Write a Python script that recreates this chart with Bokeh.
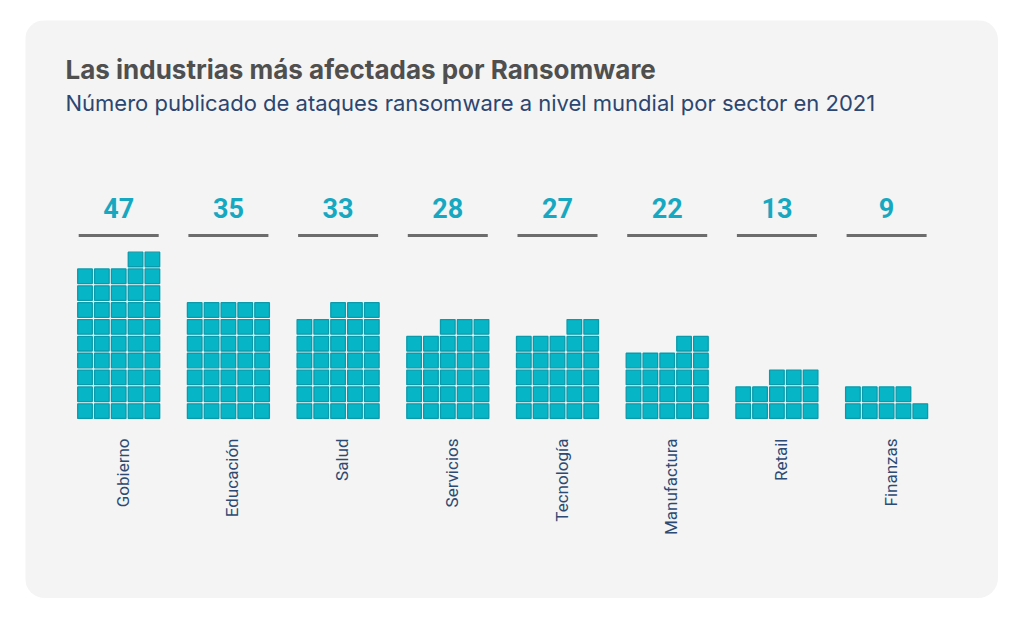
import math
from bokeh.plotting import figure
from bokeh.models import Range1d, ColumnDataSource
from bokeh.core.properties import value
from bokeh.embed import file_html
from bokeh.resources import INLINE

# ---------------- data ----------------
categories = ["Gobierno", "Educación", "Salud", "Servicios",
              "Tecnología", "Manufactura", "Retail", "Finanzas"]
attacks = [47, 35, 33, 28, 27, 22, 13, 9]
top_row_align = ["right", "right", "right", "right", "right", "right", "right", "left"]
per_row = 5

title_text = "Las industrias más afectadas por Ransomware"
subtitle_text = "Número publicado de ataques ransomware a nivel mundial por sector en 2021"

# ---------------- layout constants (page pixels) ----------------
X0 = 118.2      # page x of first category centre
SLOT = 109.7    # px between categories
BASE = 419.0    # page y of the zero line (bottom of squares)
PITCH = 16.85   # px per square (row / column pitch)
SQ = 14.6       # square size in px

CARD_L, CARD_T, CARD_R, CARD_B = 25, 20, 998, 598


def dx(px):
    return (px - X0) / SLOT


def dy(py):
    return (BASE - py) / PITCH


col_step = PITCH / SLOT

# ---------------- squares from the data ----------------
sx, sy = [], []
for i, v in enumerate(attacks):
    full, rem = divmod(v, per_row)
    for r in range(full):
        for c in range(per_row):
            sx.append(i + (c - (per_row - 1) / 2) * col_step)
            sy.append(r + 0.5)
    if rem:
        cols = range(per_row - rem, per_row) if top_row_align[i] == "right" else range(rem)
        for c in cols:
            sx.append(i + (c - (per_row - 1) / 2) * col_step)
            sy.append(full + 0.5)

squares = ColumnDataSource(dict(x=sx, y=sy))
idx = list(range(len(categories)))
cats = ColumnDataSource(dict(
    x=idx,
    lx=[i + 4.0 / SLOT for i in idx],
    x0=[i - 40 / SLOT for i in idx],
    x1=[i + 40 / SLOT for i in idx],
    num=[str(v) for v in attacks],
    cat=categories,
))

W = CARD_R - CARD_L
H = CARD_B - CARD_T

p = figure(width=W, height=H, output_backend="svg", toolbar_location=None,
           x_range=Range1d(dx(CARD_L), dx(CARD_R)),
           y_range=Range1d(dy(CARD_B), dy(CARD_T)),
           min_border=0, min_border_left=0, min_border_right=0,
           min_border_top=0, min_border_bottom=0,
           margin=(CARD_T, 1024 - CARD_R, 621 - CARD_B, CARD_L))
p.axis.visible = False
p.grid.visible = False
p.outline_line_color = None
p.background_fill_color = "#f4f4f4"
p.border_fill_color = "#f4f4f4"
p.styles = {"border-radius": "20px", "overflow": "hidden"}

p.rect(x="x", y="y", width=SQ, height=SQ, width_units="screen", height_units="screen",
       source=squares, fill_color="#06b6c7", line_color="#0b9aab", line_width=1.3)

p.segment(x0="x0", x1="x1", y0=dy(235), y1=dy(235), source=cats,
          line_color="#4a4a4a", line_width=3, line_alpha=0.8)

p.text(x="x", y=dy(207), text="num", source=cats,
       text_font=value("Roboto"), text_font_style="bold", text_font_size="27px",
       text_color="#17a8c1", text_align="center", text_baseline="middle")

p.text(x="lx", y=dy(438), text="cat", source=cats, angle=math.pi / 2,
       text_font=value("Roboto"), text_font_size="17px",
       text_color="#2d4a72", text_align="right", text_baseline="middle")

p.text(x=[dx(65)], y=[dy(69)], text=[title_text],
       text_font=value("Inter"), text_font_style="bold", text_font_size="26px",
       text_color="#4f4f4f", text_align="left", text_baseline="middle")

p.text(x=[dx(65)], y=[dy(102)], text=[subtitle_text],
       text_font=value("Inter"), text_font_size="22px",
       text_color="#2c4670", text_align="left", text_baseline="middle")

open("out.html", "w").write(file_html(p, INLINE))
